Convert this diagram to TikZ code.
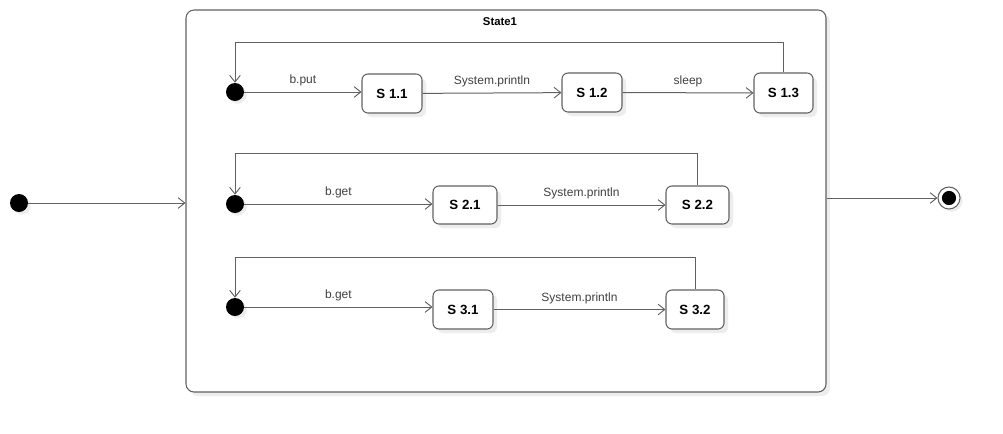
\documentclass[tikz,border=0pt]{standalone}
\usepackage{fontspec}
\setmainfont{Liberation Sans}
\usepackage{tikz}
\usetikzlibrary{fit}
\usetikzlibrary{arrows.meta}
\usetikzlibrary{shadows}
\definecolor{line}{rgb}{.38,.38,.38}
\definecolor{shade}{rgb}{.93,.93,.93}
\definecolor{txt}{rgb}{.25,.25,.25}

\begin{document}
\begin{tikzpicture}[x=.75pt, y=-.75pt,
	state/.style={draw=line, fill=white, rounded corners=4.5pt, inner sep=0pt, line width=.8pt,
		font=\fontsize{8.5}{10}\selectfont\bfseries,
		drop shadow={shadow xshift=3pt, shadow yshift=-3pt, fill=shade, opacity=1}},
	dot/.style={circle, fill=black, inner sep=0pt, minimum size=13.5pt,
		drop shadow={shadow xshift=2pt, shadow yshift=-2pt, fill=shade, opacity=1}},
	arr/.style={draw=line, line width=.75pt, -{Straight Barb[length=5pt, width=8pt, line width=.7pt]}},
	lbl/.style={font=\fontsize{9}{11}\selectfont, text=txt, above, inner sep=4pt}]
	\useasboundingbox (0,0) rectangle (1003,433);

	\node[state, rounded corners=6pt, fit={(186,10) (826,392)}] (St) {};	% State1
	\node[font=\fontsize{8.5}{10}\selectfont\bfseries] at (500,22) {State1};

	\node[dot] (I0) at (19,203) {};	% outer start / end
	\node[draw=line, circle, line width=.8pt, minimum size=16.5pt, inner sep=0pt, fill=white,
		drop shadow={shadow xshift=2pt, shadow yshift=-2pt, fill=shade, opacity=1}] (F) at (949,198) {};
	\fill (F) circle [radius=5.3pt];

	\node[dot] (I1) at (235,92) {};	% row 1
	\node[state, fit={(362,74) (422,113)}, label=center:{\bfseries S 1.1}] (S11) {};
	\node[state, fit={(562,73) (622,112)}, label=center:{\bfseries S 1.2}] (S12) {};
	\node[state, fit={(754,73) (813,113)}, label=center:{\bfseries S 1.3}] (S13) {};

	\node[dot] (I2) at (235,204) {};	% row 2
	\node[state, fit={(433,186) (497,224)}, label=center:{\bfseries S 2.1}] (S21) {};
	\node[state, fit={(666,186) (729,224)}, label=center:{\bfseries S 2.2}] (S22) {};

	\node[dot] (I3) at (235,307) {};	% row 3
	\node[state, fit={(433,290) (493,329)}, label=center:{\bfseries S 3.1}] (S31) {};
	\node[state, fit={(666,290) (724,329)}, label=center:{\bfseries S 3.2}] (S32) {};

	\draw[arr] (I0) -- (I0 -| St.west);	% Transitions
	\draw[arr] (St.east |- F) -- (F);

	\draw[arr] (I1) -- (I1 -| S11.west) node[lbl, midway] {b.put};
	\draw[arr] (S11) -- (S12) node[lbl, midway] {System.println};
	\draw[arr] (S12) -- (S13) node[lbl, midway] {sleep};
	\draw[arr] (S13.north) -- (S13.north |- 0,42) -| (I1);

	\draw[arr] (I2) -- (I2 -| S21.west) node[lbl, midway] {b.get};
	\draw[arr] (S21) -- (S22) node[lbl, midway] {System.println};
	\draw[arr] (S22.north) -- (S22.north |- 0,153) -| (I2);

	\draw[arr] (I3) -- (I3 -| S31.west) node[lbl, midway] {b.get};
	\draw[arr] (S31) -- (S32) node[lbl, midway] {System.println};
	\draw[arr] (S32.north) -- (S32.north |- 0,257) -| (I3);
\end{tikzpicture}
\end{document}
